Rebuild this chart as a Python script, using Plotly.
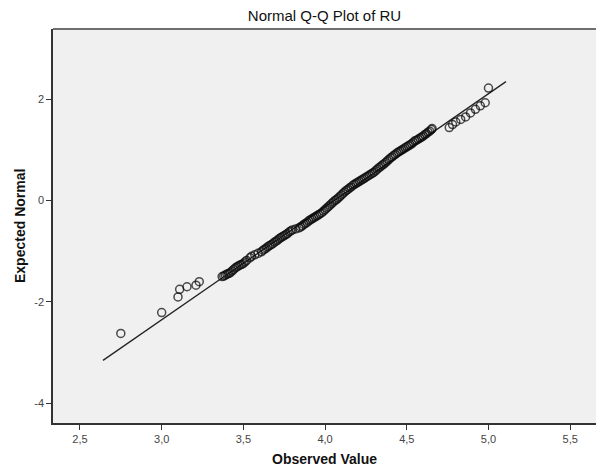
import plotly.graph_objects as go

tail_low_obs = [2.75, 3.00, 3.10, 3.11, 3.155, 3.21, 3.23]
tail_low_exp = [-2.62, -2.21, -1.90, -1.75, -1.70, -1.67, -1.60]

chain_obs = [3.37, 3.38, 3.39, 3.40, 3.41, 3.42, 3.43, 3.44, 3.45, 3.46, 3.47, 3.48,
             3.49, 3.50, 3.51, 3.52, 3.54, 3.55, 3.57, 3.59, 3.61, 3.62, 3.63, 3.64,
             3.65, 3.66, 3.67, 3.68, 3.69, 3.70, 3.71, 3.72, 3.73, 3.74, 3.75, 3.76,
             3.77, 3.78, 3.79, 3.80, 3.82, 3.84, 3.85, 3.86, 3.87, 3.88, 3.89, 3.90,
             3.91, 3.92, 3.93, 3.94, 3.95, 3.96, 3.97, 3.98, 3.99, 4.00, 4.01, 4.02,
             4.03, 4.04, 4.05, 4.06, 4.07, 4.08, 4.09, 4.10, 4.11, 4.12, 4.13, 4.14,
             4.15, 4.16, 4.17, 4.18, 4.19, 4.20, 4.21, 4.22, 4.23, 4.24, 4.25, 4.26,
             4.27, 4.28, 4.29, 4.30, 4.31, 4.32, 4.33, 4.34, 4.35, 4.36, 4.37, 4.38,
             4.39, 4.40, 4.41, 4.42, 4.43, 4.44, 4.45, 4.46, 4.47, 4.48, 4.49, 4.50,
             4.51, 4.52, 4.53, 4.54, 4.55, 4.56, 4.57, 4.58, 4.59, 4.60, 4.61, 4.62,
             4.63, 4.64, 4.65, 4.655]
chain_exp = [-1.50, -1.49, -1.47, -1.45, -1.44, -1.42, -1.39, -1.36, -1.33, -1.31, -1.29, -1.27,
             -1.26, -1.24, -1.21, -1.18, -1.13, -1.10, -1.07, -1.04, -1.01, -0.98, -0.96, -0.94,
             -0.91, -0.89, -0.87, -0.85, -0.82, -0.80, -0.78, -0.75, -0.73, -0.71, -0.69, -0.67,
             -0.65, -0.62, -0.60, -0.58, -0.56, -0.54, -0.52, -0.50, -0.47, -0.45, -0.43, -0.40,
             -0.38, -0.36, -0.34, -0.32, -0.30, -0.28, -0.26, -0.24, -0.21, -0.18, -0.15, -0.12,
             -0.09, -0.06, -0.03, 0.00, 0.02, 0.05, 0.08, 0.11, 0.14, 0.17, 0.20, 0.22,
             0.25, 0.27, 0.30, 0.32, 0.34, 0.36, 0.38, 0.40, 0.42, 0.44, 0.46, 0.48,
             0.50, 0.52, 0.54, 0.56, 0.59, 0.62, 0.65, 0.67, 0.70, 0.72, 0.75, 0.78,
             0.81, 0.84, 0.86, 0.89, 0.91, 0.94, 0.96, 0.98, 1.00, 1.02, 1.04, 1.06,
             1.08, 1.10, 1.12, 1.15, 1.18, 1.19, 1.21, 1.23, 1.25, 1.27, 1.30, 1.32,
             1.35, 1.37, 1.40, 1.42]

tail_high_obs = [4.76, 4.78, 4.80, 4.83, 4.86, 4.89, 4.92, 4.95, 4.98, 5.00]
tail_high_exp = [1.44, 1.50, 1.55, 1.60, 1.65, 1.73, 1.80, 1.87, 1.93, 2.22]

observed = tail_low_obs + chain_obs + tail_high_obs
expected = tail_low_exp + chain_exp + tail_high_exp

# Reference (normal) line end points
fit_x = [2.641, 5.107]
fit_y = [-3.153, 2.347]

x_tickvals = [2.5, 3.0, 3.5, 4.0, 4.5, 5.0, 5.5]
x_ticktext = ["2,5", "3,0", "3,5", "4,0", "4,5", "5,0", "5,5"]
y_tickvals = [2, 0, -2, -4]
y_ticktext = ["2", "0", "-2", "-4"]

FONT = "Liberation Sans, Arial, sans-serif"

fig = go.Figure()
fig.add_trace(go.Scatter(x=fit_x, y=fit_y, mode="lines",
                         line=dict(color="#222222", width=1.3),
                         hoverinfo="skip", showlegend=False))
fig.add_trace(go.Scatter(x=observed, y=expected, mode="markers",
                         marker=dict(symbol="circle-open", size=8,
                                     color="rgba(10,10,10,0.72)",
                                     line=dict(width=1.5)),
                         showlegend=False))

fig.update_layout(
    width=596, height=470,
    margin=dict(l=53, r=0, t=29, b=47),
    paper_bgcolor="white", plot_bgcolor="#f0f0f0",
    font=dict(family=FONT, size=11, color="#333333"),
    title=dict(text="Normal Q-Q Plot of RU", x=0.5, xref="paper",
               y=1 - 15.5 / 470, yref="container", yanchor="middle",
               font=dict(family=FONT, size=15, color="#111111")),
    xaxis=dict(range=[2.335, 5.658], showgrid=False, zeroline=False,
               tickvals=x_tickvals, ticktext=x_ticktext,
               ticks="outside", ticklen=5, tickwidth=1.3, tickcolor="#333333",
               showline=True, linecolor="#333333", linewidth=1.5,
               tickfont=dict(size=11, color="#444444")),
    yaxis=dict(range=[-4.388, 3.385], showgrid=False, zeroline=False,
               tickvals=y_tickvals, ticktext=y_ticktext,
               ticks="outside", ticklen=5, tickwidth=1.3, tickcolor="#333333",
               showline=True, linecolor="#333333", linewidth=1.5,
               tickfont=dict(size=11, color="#444444")),
    annotations=[
        dict(text="<b>Observed Value</b>", xref="paper", yref="paper",
             x=(324.5 - 53) / 543, y=-(459 - 423) / 394, showarrow=False,
             xanchor="center", yanchor="middle",
             font=dict(family=FONT, size=14, color="#111111")),
        dict(text="<b>Expected Normal</b>", xref="paper", yref="paper",
             x=(20 - 53) / 543, y=0.5, showarrow=False, textangle=-90,
             xanchor="center", yanchor="middle",
             font=dict(family=FONT, size=14, color="#111111")),
    ],
    shapes=[dict(type="line", xref="paper", yref="paper", x0=0, x1=1,
                 y0=1, y1=1, line=dict(color="#6e6e6e", width=2))],
)

fig.write_html("out.html", config={"displayModeBar": False},
               post_script="document.body.style.margin='0px';")
